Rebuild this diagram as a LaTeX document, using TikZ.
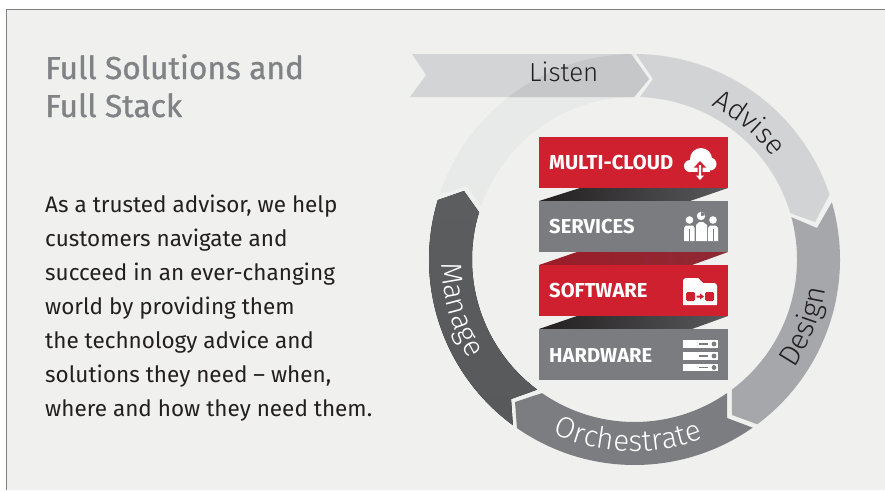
\documentclass[tikz,border=0pt]{standalone}
\usepackage{fontspec}
\setmainfont{Fira Sans}
\newfontfamily\titlefont[FakeBold=1]{Fira Sans}
\newfontfamily\ringfont{Fira Sans Light}
\usetikzlibrary{decorations.text}
\definecolor{panelbg}{HTML}{F0F0EF}
\definecolor{framec}{HTML}{7F8083}
\definecolor{titlec}{HTML}{808285}
\definecolor{bodyc}{HTML}{231F20}
\definecolor{redbox}{HTML}{CF2030}
\definecolor{graybox}{HTML}{7B7C7F}
\definecolor{c-listenarc}{HTML}{E8E9E9}
\definecolor{c-listen}{HTML}{D3D4D6}
\definecolor{c-overlap}{HTML}{C6C7C9}
\definecolor{c-advise}{HTML}{D2D3D5}
\definecolor{c-design}{HTML}{A6A7AA}
\definecolor{c-orch}{HTML}{7C7D80}
\definecolor{c-manageA}{HTML}{5C5D5F}
\definecolor{c-manageB}{HTML}{58595B}
\definecolor{darkA}{HTML}{231F20}
\definecolor{darkB}{HTML}{58595B}
\definecolor{redA}{HTML}{9B1C29}
\definecolor{redB}{HTML}{8F2A33}
\newcommand{\cx}{634.5}
\newcommand{\cy}{259.5}
\newcommand{\Ro}{205.5}
\newcommand{\Ri}{162.5}
\tikzset{
  x=1pt,y=-1pt,
  titletext/.style={anchor=base west,inner sep=0,font=\fontsize{31.7}{31.7}\titlefont,text=titlec},
  bodytext/.style={anchor=base west,inner sep=0,font=\fontsize{22.5}{22.5}\selectfont,text=bodyc},
  boxlabel/.style={anchor=base west,inner sep=0,font=\fontsize{20.2}{20.2}\selectfont\bfseries,text=white},
  stackbox/.style={inner sep=0,minimum width=189pt,minimum height=51pt,anchor=north west},
}
\newcommand{\PP}[2]{({\cx+#2*cos(#1)},{\cy-#2*sin(#1)})}
\begin{document}
\begin{tikzpicture}
\useasboundingbox (0,0) rectangle (885,490);
\fill[white] (0,0) rectangle (885,490);
\fill[panelbg] (6,9) rectangle (885,490);
\draw[framec,line width=1pt] (6,490) -- (6,9) -- (885,9);
% Listen arc
\fill[c-listenarc] \PP{161.4}{\Ro} -- (467,186) -- \PP{160.9}{\Ri}
  arc[start angle=-160.9,end angle=-90,radius=\Ri] -- \PP{90}{\Ro}
  arc[start angle=-90,end angle=-161.4,radius=\Ro] -- cycle;
% Listen chevron
\fill[c-listen] (412,54) -- (631,54) -- (649,79) -- (634,97) -- (410,97) -- (426,75) -- cycle;
\begin{scope}
\clip (412,54) -- (631,54) -- (649,79) -- (634,97) -- (410,97) -- (426,75) -- cycle;
\fill[c-overlap] \PP{160.9}{\Ri} arc[start angle=-160.9,end angle=-80,radius=\Ri] -- \PP{80}{\Ro}
  arc[start angle=-80,end angle=-161.4,radius=\Ro] -- cycle;
\end{scope}
% Advise
\fill[c-advise] \PP{89.6}{\Ro} arc[start angle=-89.6,end angle=-18.4,radius=\Ro] -- (815,222) -- \PP{16.6}{\Ri}
  arc[start angle=-16.6,end angle=-88.1,radius=\Ri] -- (653,79) -- cycle;
% Design
\fill[c-design] \PP{16.2}{\Ro} arc[start angle=-16.2,end angle=53.3,radius=\Ro] -- (732,415) -- \PP{-53.2}{\Ri}
  arc[start angle=53.2,end angle=-15.1,radius=\Ri] -- (817,228) -- cycle;
% Orchestrate
\fill[c-orch] \PP{-54.9}{\Ro} arc[start angle=54.9,end angle=124.9,radius=\Ro] -- (515,402) -- \PP{-124.7}{\Ri}
  arc[start angle=124.7,end angle=55.3,radius=\Ri] -- (727,418) -- cycle;
% Manage
\fill[top color=c-manageA,bottom color=c-manageB] \PP{-126.3}{\Ro} arc[start angle=126.3,end angle=196.8,radius=\Ro] -- (464,191) -- \PP{163.1}{\Ri}
  arc[start angle=196.9,end angle=126.8,radius=\Ri] -- (511,399) -- cycle;
% Ring labels
\path[postaction={decorate},decoration={text along path,text align=center,text={|\fontsize{28}{28}\ringfont\color{bodyc}|Advise}}]
  \PP{84}{172} arc[start angle=-84,end angle=-16,radius=172];
\path[postaction={decorate},decoration={text along path,text align=center,text={|\fontsize{29}{29}\ringfont\color{bodyc}|Design}}]
  \PP{-55}{193} arc[start angle=55,end angle=-12,radius=193];
\path[postaction={decorate},decoration={text along path,text align=center,text={|\fontsize{29.5}{29.5}\ringfont\color{white}|Orchestrate}}]
  \PP{-136}{192} arc[start angle=136,end angle=48,radius=192];
\path[postaction={decorate},decoration={text along path,text align=center,text={|\fontsize{29}{29}\ringfont\color{white}|Manage}}]
  \PP{162}{193} arc[start angle=-162,end angle=-230,radius=193];
\node[anchor=base west,inner sep=0,font=\fontsize{26}{26}\ringfont,text=bodyc] (listen) at (529,81) {Listen};
% Title and body
\node[titletext] (t1) at (45,79) {Full Solutions and};
\node[titletext] (t2) at (45,117) {Full Stack};
\node[bodytext] (b1) at (45,212) {As a trusted advisor, we help};
\node[bodytext] (b2) at (45,246) {customers navigate and};
\node[bodytext] (b3) at (45,280) {succeed in an ever-changing};
\node[bodytext] (b4) at (45,314) {world by providing them};
\node[bodytext] (b5) at (45,348) {the technology advice and};
\node[bodytext] (b6) at (45,382) {solutions they need – when,};
\node[bodytext] (b7) at (45,416) {where and how they need them.};
% Stack bands
\shade[left color=darkA,right color=darkB] (539,201) -- (580,188) -- (728,188) -- (690,201) -- cycle;
\shade[left color=redA,right color=redB] (539,265) -- (577,252) -- (728,252) -- (692,265) -- cycle;
\shade[left color=darkA,right color=darkB] (539,329) -- (577,316) -- (728,316) -- (692,329) -- cycle;
% Stack boxes
\node[stackbox,fill=redbox] (mc) at (539,137) {};
\node[stackbox,fill=graybox] (sv) at (539,201) {};
\node[stackbox,fill=redbox] (sw) at (539,265) {};
\node[stackbox,fill=graybox] (hw) at (539,329) {};
\node[boxlabel] (mcl) at (549,169) {MULTI-CLOUD};
\node[boxlabel] (svl) at (549,233) {SERVICES};
\node[boxlabel] (swl) at (549,297) {SOFTWARE};
\node[boxlabel] (hwl) at (549,362) {HARDWARE};
% Cloud icon
\fill[white] (701,159) circle[radius=11];
\fill[white] (710,164) circle[radius=6.5];
\fill[white] (690,166) circle[radius=6];
\fill[white] (690,164) rectangle (710,172);
\fill[redbox] (700,161) -- (706,167.5) -- (702.5,167.5) -- (702.5,172) -- (697.5,172) -- (697.5,167.5) -- (694,167.5) -- cycle;
\fill[redbox] (696,172) rectangle (704,176);
\fill[white] (698.8,165) -- (701.2,165) -- (701.2,175.5) -- (704,175.5) -- (700,180) -- (696,175.5) -- (698.8,175.5) -- cycle;
% People icon
\fill[white] (689.5,220) circle[radius=3.8];
\fill[white] (713,220) circle[radius=3.8];
\fill[white] (701,216) circle[radius=4.2];
\fill[graybox] (701,216) -- (701,212) arc[start angle=-90,end angle=-10,radius=4] -- cycle;
\fill[white] (684,241) -- (684,228) -- (686,225.5) -- (693,225.5) -- (694.5,228) -- (694.5,241) -- cycle;
\fill[graybox] (688.5,229) rectangle (690,241);
\fill[white] (696,241) -- (696,225) -- (699,222) -- (703,222) -- (707,225) -- (707,241) -- cycle;
\fill[white] (708,241) -- (708,228) -- (710,225.5) -- (716,225.5) -- (718,228) -- (718,241) -- cycle;
\fill[graybox] (712.5,229) rectangle (714,241);
% Folder icon
\fill[white] (683,305) -- (683,281) arc[start angle=-180,end angle=-90,radius=3] -- (698,278) -- (703,283) -- (714,283) arc[start angle=-90,end angle=0,radius=3] -- (717,305) -- cycle;
\fill[redbox,rounded corners=1.5pt] (686,292) rectangle (695,301);
\fill[redbox,rounded corners=1.5pt] (705,292) rectangle (714,301);
\fill[redbox] (696.5,295.5) -- (700,295.5) -- (700,293.5) -- (704,296.5) -- (700,299.5) -- (700,297.5) -- (696.5,297.5) -- cycle;
% Server icon
\foreach \ya/\yb in {340/348,352/360,364/371}{
  \fill[white] (683,\ya) rectangle (718,\yb);
  \fill[graybox] (699,{(\ya+\yb)/2-0.7}) rectangle (708,{(\ya+\yb)/2+0.7});
  \fill[graybox] (714,{(\ya+\yb)/2}) circle[radius=2.4];
}
\end{tikzpicture}
\end{document}
